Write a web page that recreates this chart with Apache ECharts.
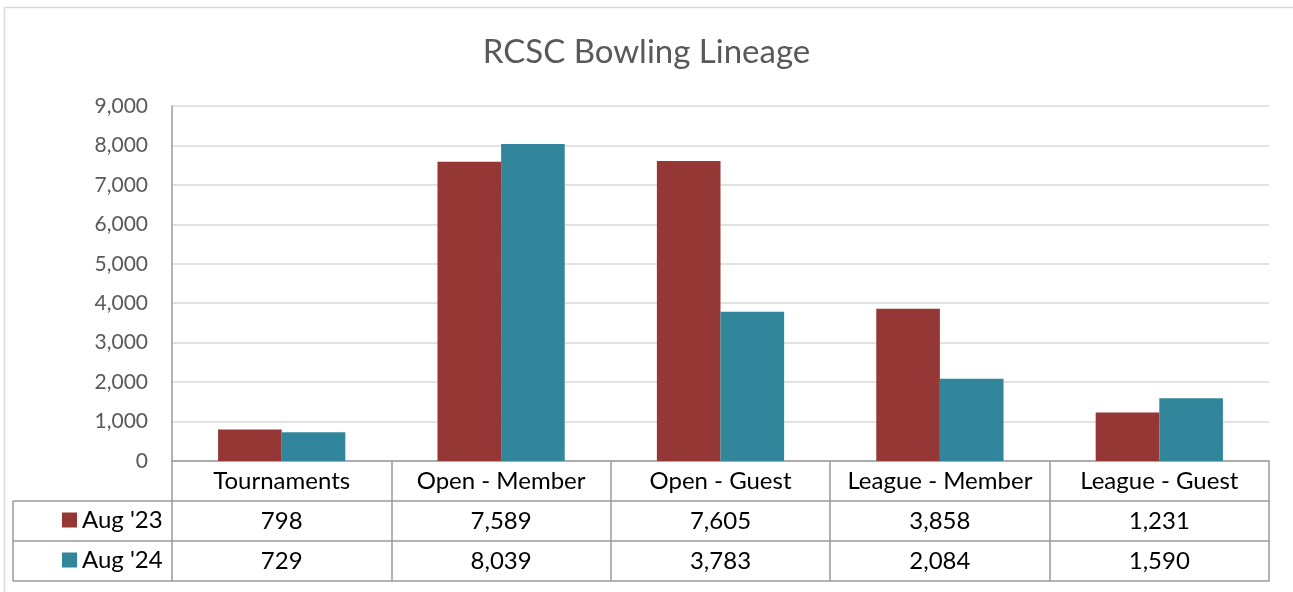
<!DOCTYPE html>
<html>
<head>
<meta charset="utf-8">
<script src="https://cdn.jsdelivr.net/npm/echarts@6/dist/echarts.min.js"></script>
<style>
html,body{margin:0;padding:0;background:#fff;}
#c{width:1293px;height:592px;}
</style>
</head>
<body>
<div id="c"></div>
<script>
var title = "RCSC Bowling Lineage";
var categories = ["Tournaments", "Open - Member", "Open - Guest", "League - Member", "League - Guest"];
var seriesNames = ["Aug '23", "Aug '24"];
var aug23 = [798, 7589, 7605, 3858, 1231];
var aug24 = [729, 8039, 3783, 2084, 1590];
var yTicks = [0, 1000, 2000, 3000, 4000, 5000, 6000, 7000, 8000, 9000];

var FONT = 'Lato';
var RED = '#943735';
var TEAL = '#31869c';
var LINE = '#9a9a9a';
var fmt = function (v) { return Number(v).toLocaleString('en-US'); };

var chart = echarts.init(document.getElementById('c'));

var gridLeft = 172, gridRight = 24, gridTop = 106, gridBottomY = 461, rowH = 40;

function tableAxis(data, offset, showLabels, showTicks) {
  return {
    type: 'category',
    data: data,
    gridIndex: 0,
    position: 'bottom',
    offset: offset,
    boundaryGap: true,
    axisLine: { show: true, lineStyle: { color: LINE, width: 1.5 } },
    axisTick: { show: showTicks, length: rowH, lineStyle: { color: LINE, width: 1.5 } },
    axisLabel: { show: showLabels, interval: 0, color: '#000', fontFamily: FONT, fontSize: 24, margin: 8 },
    splitLine: { show: false }
  };
}

var option = {
  animation: false,
  backgroundColor: '#fff',
  textStyle: { fontFamily: FONT },
  title: {
    text: title,
    left: 'center',
    top: 31,
    textStyle: { fontFamily: FONT, fontSize: 33, fontWeight: 'normal', color: '#595959' }
  },
  legend: {
    orient: 'vertical',
    left: 57,
    top: 503,
    itemWidth: 15,
    itemHeight: 15,
    itemGap: 16,
    icon: 'rect',
    data: seriesNames,
    textStyle: { fontFamily: FONT, fontSize: 24, color: '#000', lineHeight: 24 }
  },
  grid: {
    left: gridLeft,
    right: gridRight,
    top: gridTop,
    bottom: 592 - gridBottomY,
    containLabel: false
  },
  xAxis: [
    tableAxis(categories, 0, true, true),
    tableAxis(aug23.map(fmt), rowH, true, true),
    tableAxis(aug24.map(fmt), rowH * 2, true, true),
    tableAxis(['', '', '', '', ''], rowH * 3, false, false)
  ],
  yAxis: {
    type: 'value',
    min: yTicks[0],
    max: yTicks[yTicks.length - 1],
    interval: 1000,
    axisLine: { show: true, lineStyle: { color: LINE, width: 1.5 } },
    axisTick: { show: false },
    axisLabel: { color: '#595959', fontFamily: FONT, fontSize: 21, margin: 24, formatter: function (v) { return fmt(v); } },
    splitLine: { show: true, lineStyle: { color: '#d9d9d9', width: 1.5 } }
  },
  series: [
    { name: seriesNames[0], type: 'bar', xAxisIndex: 0, data: aug23, barGap: '0%', barCategoryGap: '42%', itemStyle: { color: RED } },
    { name: seriesNames[1], type: 'bar', xAxisIndex: 0, data: aug24, barGap: '0%', barCategoryGap: '42%', itemStyle: { color: TEAL } }
  ],
  graphic: [
    { type: 'rect', shape: { x: 4.5, y: 7.5, width: 1300, height: 600 }, style: { fill: 'none', stroke: '#d9d9d9', lineWidth: 1.5 }, silent: true },
    { type: 'line', shape: { x1: 13, y1: gridBottomY + rowH, x2: gridLeft, y2: gridBottomY + rowH }, style: { stroke: LINE, lineWidth: 1.5 } },
    { type: 'line', shape: { x1: 13, y1: gridBottomY + rowH * 2, x2: gridLeft, y2: gridBottomY + rowH * 2 }, style: { stroke: LINE, lineWidth: 1.5 } },
    { type: 'line', shape: { x1: 13, y1: gridBottomY + rowH * 3, x2: gridLeft, y2: gridBottomY + rowH * 3 }, style: { stroke: LINE, lineWidth: 1.5 } },
    { type: 'line', shape: { x1: 13, y1: gridBottomY + rowH, x2: 13, y2: gridBottomY + rowH * 3 }, style: { stroke: LINE, lineWidth: 1.5 } }
  ]
};
chart.setOption(option);
</script>
</body>
</html>
